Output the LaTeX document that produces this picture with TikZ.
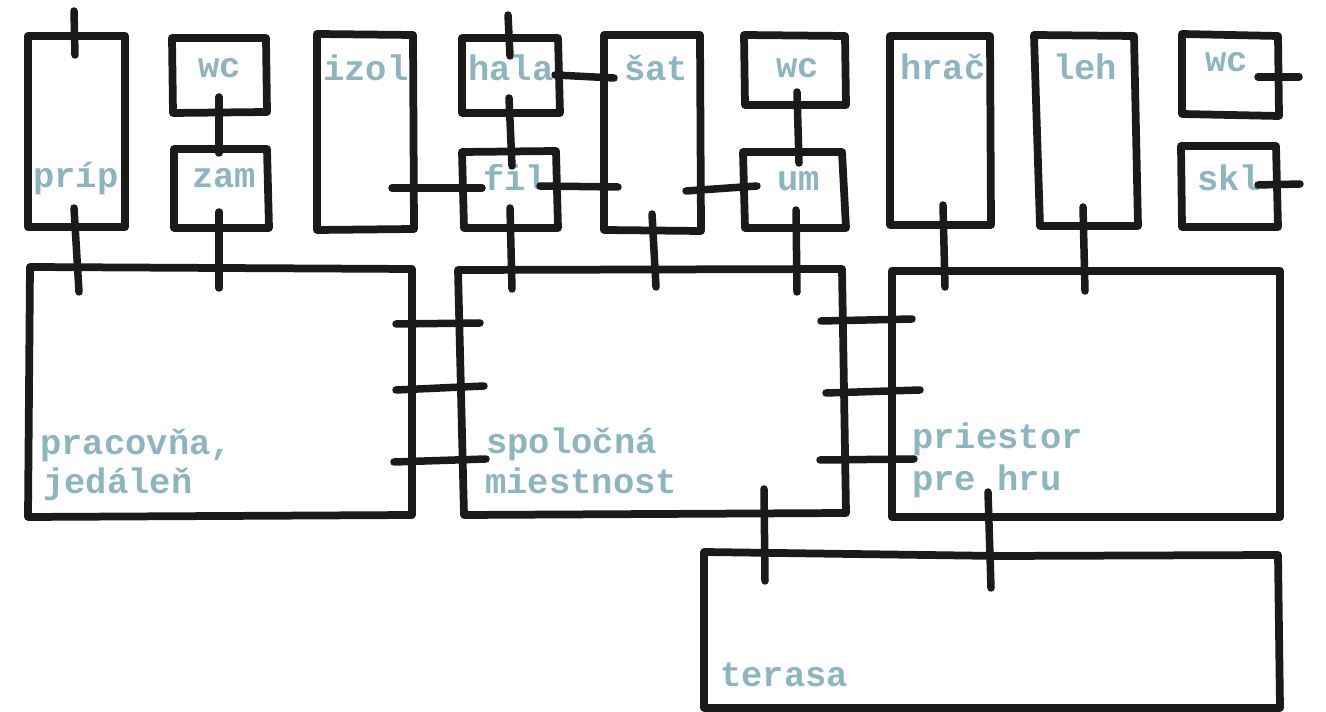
\documentclass[tikz,border=0pt]{standalone}
\usepackage{fontspec}
\setmainfont{Liberation Mono}
\definecolor{labelteal}{HTML}{8DB5BF}
\definecolor{penblack}{HTML}{1A1A1A}
\tikzset{
  wall/.style={line width=0.155cm, color=penblack, line cap=round, line join=round},
  door/.style={line width=0.15cm, color=penblack, line cap=round},
  roomlabel/.style={anchor=base west, inner sep=0pt, text=labelteal, font=\fontsize{20.2}{20.2}\selectfont\bfseries}
}
\begin{document}
\begin{tikzpicture}[x=0.02cm, y=-0.02cm] %coordinates in pixels of the sketch

\useasboundingbox (0,0) rectangle (1326,712);

\node[roomlabel] (prip) at (33,188) {príp};
\node[roomlabel] (wcA) at (198,78) {wc};
\node[roomlabel] (zam) at (192,188) {zam};
\node[roomlabel] (izol) at (323,81) {izol};
\node[roomlabel] (hala) at (468,81) {hala};
\node[roomlabel] (fil) at (483,191) {fil};
\node[roomlabel] (sat) at (624,81) {šat};
\node[roomlabel] (wcB) at (776,78) {wc};
\node[roomlabel] (um) at (777,191) {um};
\node[roomlabel] (hrac) at (900,80) {hrač};
\node[roomlabel] (leh) at (1053,80) {leh};
\node[roomlabel] (wcC) at (1205,72) {wc};
\node[roomlabel] (skl) at (1197,191) {skl};
\node[roomlabel] (pracA) at (40,455) {pracovňa,};
\node[roomlabel] (pracB) at (43,494) {jedáleň};
\node[roomlabel] (spolA) at (486,454) {spoločná};
\node[roomlabel] (spolB) at (485,494) {miestnost};
\node[roomlabel] (prieA) at (912,449) {priestor};
\node[roomlabel] (prieB) at (912,491) {pre hru};
\node[roomlabel] (ter) at (720,687) {terasa};

%small rooms
\draw[wall] (28,36) -- (125,36) -- (125,227) -- (28,227) -- cycle;
\draw[wall] (172,38) -- (266,38) -- (267,112) -- (173,113) -- cycle;
\draw[wall] (174,149) -- (267,149) -- (269,228) -- (174,228) -- cycle;
\draw[wall] (317,34) -- (413,35) -- (414,229) -- (317,230) -- cycle;
\draw[wall] (462,38) -- (558,38) -- (560,113) -- (462,113) -- cycle;
\draw[wall] (462,152) -- (556,151) -- (558,228) -- (464,228) -- cycle;
\draw[wall] (604,35) -- (700,35) -- (701,231) -- (604,230) -- cycle;
\draw[wall] (744,35) -- (845,36) -- (846,105) -- (745,105) -- cycle;
\draw[wall] (743,152) -- (842,152) -- (846,228) -- (745,228) -- cycle;
\draw[wall] (890,36) -- (990,36) -- (991,225) -- (890,225) -- cycle;
\draw[wall] (1034,35) -- (1134,36) -- (1138,226) -- (1040,226) -- (1036,100) -- cycle;
\draw[wall] (1182,34) -- (1278,36) -- (1279,116) -- (1182,114) -- cycle;
\draw[wall] (1181,146) -- (1276,146) -- (1278,227) -- (1182,227) -- cycle;

%big rooms
\draw[wall] (30,267) -- (412,269) -- (412,515) -- (28,517) -- cycle;
\draw[wall] (458,270) -- (842,269) -- (846,513) -- (464,515) -- cycle;
\draw[wall] (892,271) -- (1280,271) -- (1280,517) -- (892,517) -- cycle;
\draw[wall] (704,552) -- (1000,556) -- (1278,555) -- (1280,708) -- (704,708) -- cycle;

%doors top row
\draw[door] (74,11) -- (75,55);
\draw[door] (219,97) -- (219,153);
\draw[door] (508,15) -- (510,56);
\draw[door] (509,98) -- (512,166);
\draw[door] (555,75) -- (614,78);
\draw[door] (797,92) -- (799,163);
\draw[door] (392,188) -- (482,188);
\draw[door] (540,186) -- (618,187);
\draw[door] (686,191) -- (757,186);
\draw[door] (1258,77) -- (1299,77);
\draw[door] (1258,185) -- (1300,184);

%doors to the big rooms
\draw[door] (74,208) -- (79,292);
\draw[door] (219,212) -- (219,288);
\draw[door] (510,208) -- (512,289);
\draw[door] (652,214) -- (656,287);
\draw[door] (796,210) -- (797,292);
\draw[door] (943,205) -- (945,287);
\draw[door] (1083,207) -- (1085,291);

%doors between the big rooms
\draw[door] (396,324) -- (480,323);
\draw[door] (396,390) -- (484,386);
\draw[door] (394,462) -- (486,459);
\draw[door] (821,321) -- (912,319);
\draw[door] (826,393) -- (920,390);
\draw[door] (820,460) -- (914,459);

%doors to the terrace
\draw[door] (764,489) -- (765,581);
\draw[door] (988,492) -- (991,588);

\end{tikzpicture}
\end{document}
